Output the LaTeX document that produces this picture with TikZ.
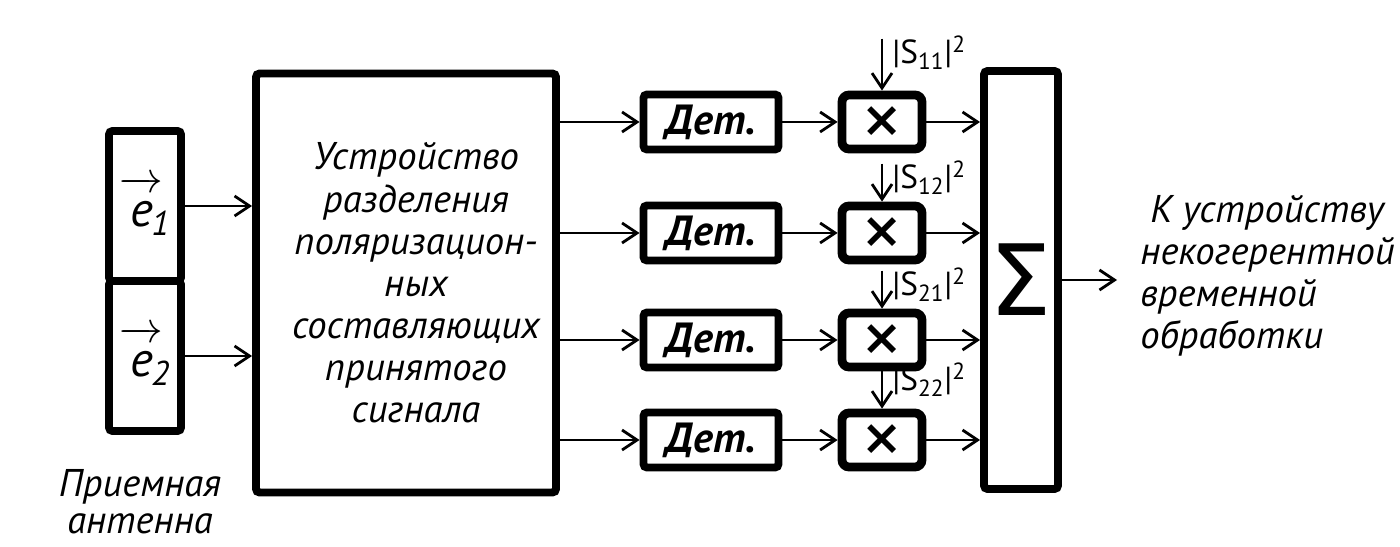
\documentclass[tikz,border=0pt]{standalone}
\usepackage{fontspec}
\usepackage{amsmath}
\setmainfont{PT Sans}
\newfontfamily\symfont{DejaVu Sans}
\usetikzlibrary{arrows.meta, positioning, calc}

\begin{document}
\begin{tikzpicture}[
    x=0.02cm, y=-0.02cm,
    font=\itshape\fontsize{22}{24}\selectfont,
    blk/.style={draw, line width=4.5pt, rounded corners=2pt, inner sep=0pt,
        align=center},
    antbox/.style={blk, minimum width=1.44cm, minimum height=3cm,
        font=\itshape\fontsize{28}{30}\selectfont},
    detbox/.style={blk, minimum width=2.7cm, minimum height=1.1cm,
        font=\bfseries\itshape\fontsize{24}{26}\selectfont},
    mulbox/.style={blk, line width=5pt, rounded corners=4pt,
        minimum width=1.6cm, minimum height=1.08cm,
        font=\symfont\bfseries\fontsize{28}{30}\selectfont},
    flow/.style={-{Straight Barb[length=3mm, width=4mm]}, line width=1.6pt},
    coef/.style={font=\upshape\fontsize{19}{20}\selectfont, anchor=west,
        inner sep=0pt},
]

\useasboundingbox (0,0) rectangle (1400,547);

% antenna
\node[antbox] (e1) at (145,206)
    {$\overrightarrow{\vphantom{\textit{l}}\textit{e}}_{\kern-0.25em\textit{1}}$};
\node[antbox] (e2) at (145,356)
    {$\overrightarrow{\vphantom{\textit{l}}\textit{e}}_{\kern-0.25em\textit{2}}$};
\node[align=center, font=\itshape\fontsize{22}{21}\selectfont] (ant)
    at (140,502) {Приемная\\антенна};

% polarization splitter
\node[blk, minimum width=6cm, minimum height=8.38cm] (split) at (406,283)
    {\hspace*{0.4cm}Устройство\\\hspace*{0.4cm}разделения\\
     \hspace*{0.4cm}поляризацион-\\\hspace*{0.4cm}ных\\
     \hspace*{0.4cm}составляющих\\\hspace*{0.4cm}принятого\\
     \hspace*{0.4cm}сигнала};
\draw[flow] (e1) -- (e1 -| split.west);
\draw[flow] (e2) -- (e2 -| split.west);

% summator
\node[blk, minimum width=1.48cm, minimum height=8.36cm,
      font=\symfont\fontsize{56}{58}\selectfont] (sum) at (1021,280) {Σ};

% four channels
\foreach \i/\y/\s/\l in {1/122/11/52, 2/233/12/38, 3/340/21/38, 4/440/22/43} {
    \node[detbox] (det\i) at (711,\y) {Дет.};
    \node[mulbox] (mul\i) at (882,\y) {×};
    \draw[flow] (split.east |- det\i) -- (det\i);
    \draw[flow] (det\i) -- (mul\i);
    \draw[flow] (mul\i) -- (mul\i -| sum.west);
    \coordinate (w\i) at ($(mul\i.north)+(0,-\l)$);
    \draw[flow] (w\i) -- (mul\i);
    \node[coef] (s\i) at ($(w\i)+(10,14)$)
        {|S\textsubscript{\s}|\textsuperscript{2}};
}

% output
\coordinate (out) at (1117,280);
\draw[flow] (sum) -- (out);
\node[anchor=north west, align=left, inner sep=0pt] (dest) at (1140,195)
    {\hspace*{0.2cm}К устройству\\некогерентной\\временной\\обработки};

\end{tikzpicture}
\end{document}
